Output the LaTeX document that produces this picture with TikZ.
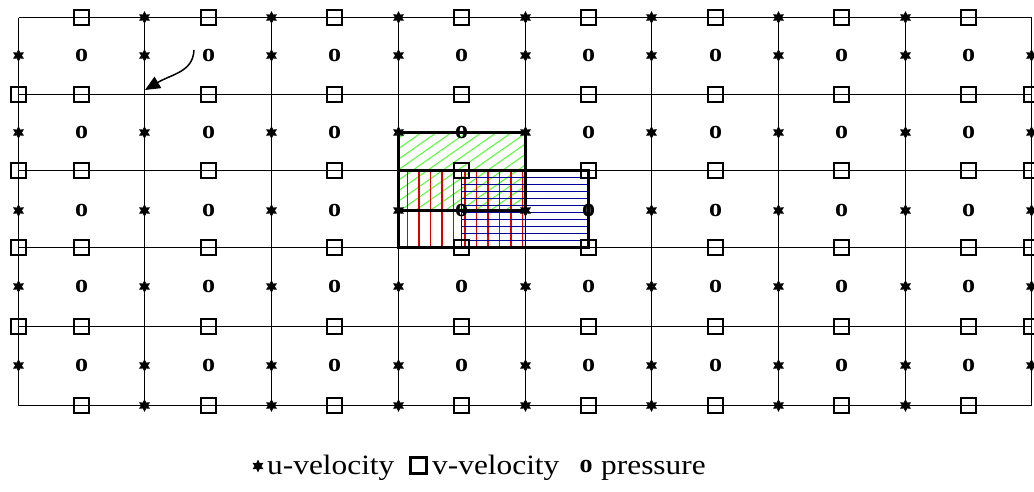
\documentclass[tikz,border=0pt]{standalone}
\usepackage{fontspec}
\setmainfont{Liberation Serif}
\usetikzlibrary{positioning,shapes.geometric,arrows.meta}

\tikzset{
  umark/.style={star, star points=6, star point ratio=1.9, draw, fill=black, line width=0.8pt, inner sep=0pt, minimum size=11pt},
  vmark/.style={draw, rectangle, line width=2.6pt, minimum size=15pt, inner sep=0pt},
  pmark/.style={inner sep=0pt, font=\fontsize{26}{26}\selectfont\bfseries},
  legtext/.style={inner sep=0pt, anchor=base west, font=\fontsize{28}{28}\selectfont},
  gridline/.style={line width=1.6pt},
  cvline/.style={line width=3pt},
}

\begin{document}
\begin{tikzpicture}[x=1pt, y=-1pt, >=stealth]
\useasboundingbox (0,0) rectangle (1034,491);
% grid lines
\foreach \x in {18.5,144.5,271.5,398.5,525.5,651.5,778.5,905.5,1031.5}
  \draw[gridline] (\x,17.5) -- (\x,405.5);
\foreach \y in {17.5,94.5,170.5,247.5,326.5,405.5}
  \draw[gridline] (18.5,\y) -- (1031.5,\y);

% hatched control volumes
\begin{scope}
  \clip (398.5,132.5) rectangle (525.5,210.5);
  \foreach \c in {-300,-285,...,150}
    \draw[green!80!lime!80, line width=1pt] ({398+\c},212) -- ({398+\c+300},2);
\end{scope}
\foreach \x in {407.5,419,...,525}
  \draw[red!85!black, line width=1.2pt] (\x,170.5) -- (\x,247.5);
\foreach \y in {177.5,184.5,...,246}
  \draw[blue!60!black, line width=1pt] (461.5,\y) -- (588.5,\y);
\draw[blue!60!black, line width=1.4pt] (461.5,170.5) -- (461.5,247.5);
\draw[cvline] (398.5,132.5) rectangle (525.5,210.5);
\draw[cvline] (398.5,170.5) rectangle (588.5,247.5);

% u-velocity
\foreach \x [count=\i] in {18.5,144.5,271.5,398.5,525.5,651.5,778.5,905.5,1031.5}
  \foreach \y [count=\j] in {55.5,132.5,210.5,286.5,365.5}
    \node[umark] (u-\i-\j) at (\x,\y) {};
\foreach \x [count=\i] in {144.5,271.5,398.5,525.5,651.5,778.5,905.5}
  \foreach \y [count=\j] in {17.5,405.5}
    \node[umark] (ub-\i-\j) at (\x,\y) {};

% v-velocity
\foreach \x [count=\i] in {81.5,208.5,334.5,461.5,588.5,715.5,841.5,968.5}
  \foreach \y [count=\j] in {17.5,94.5,170.5,247.5,326.5,405.5}
    \node[vmark] (v-\i-\j) at (\x,\y) {};
\foreach \x [count=\i] in {18.5,1031.5}
  \foreach \y [count=\j] in {94.5,170.5,247.5,326.5}
    \node[vmark] (vb-\i-\j) at (\x,\y) {};

% pressure
\foreach \x [count=\i] in {81.5,208.5,334.5,461.5,588.5,715.5,841.5,968.5}
  \foreach \y [count=\j] in {55.5,132.5,210.5,286.5,365.5}
    \node[pmark] (p-\i-\j) at (\x,\y) {o};

% pointer
\coordinate (pointfrom) at (194,50);
\coordinate (pointto) at (145,90);
\draw[line width=1.5pt, -{Triangle[length=15pt,width=13pt]}] (pointfrom) .. controls (193,72) and (172,74) .. (pointto);

% legend
\node[umark] (lu) at (258,466) {};
\node[legtext] (lut) at (267,474) {\scalebox{1.12}[1]{u-velocity}};
\node[vmark, minimum size=16pt] (lv) at (418.5,465.5) {};
\node[legtext] (lvt) at (432,474) {\scalebox{1.12}[1]{v-velocity}};
\node[pmark] (lp) at (586,466) {o};
\node[legtext] (lpt) at (601,474) {\scalebox{1.12}[1]{pressure}};
\end{tikzpicture}
\end{document}
